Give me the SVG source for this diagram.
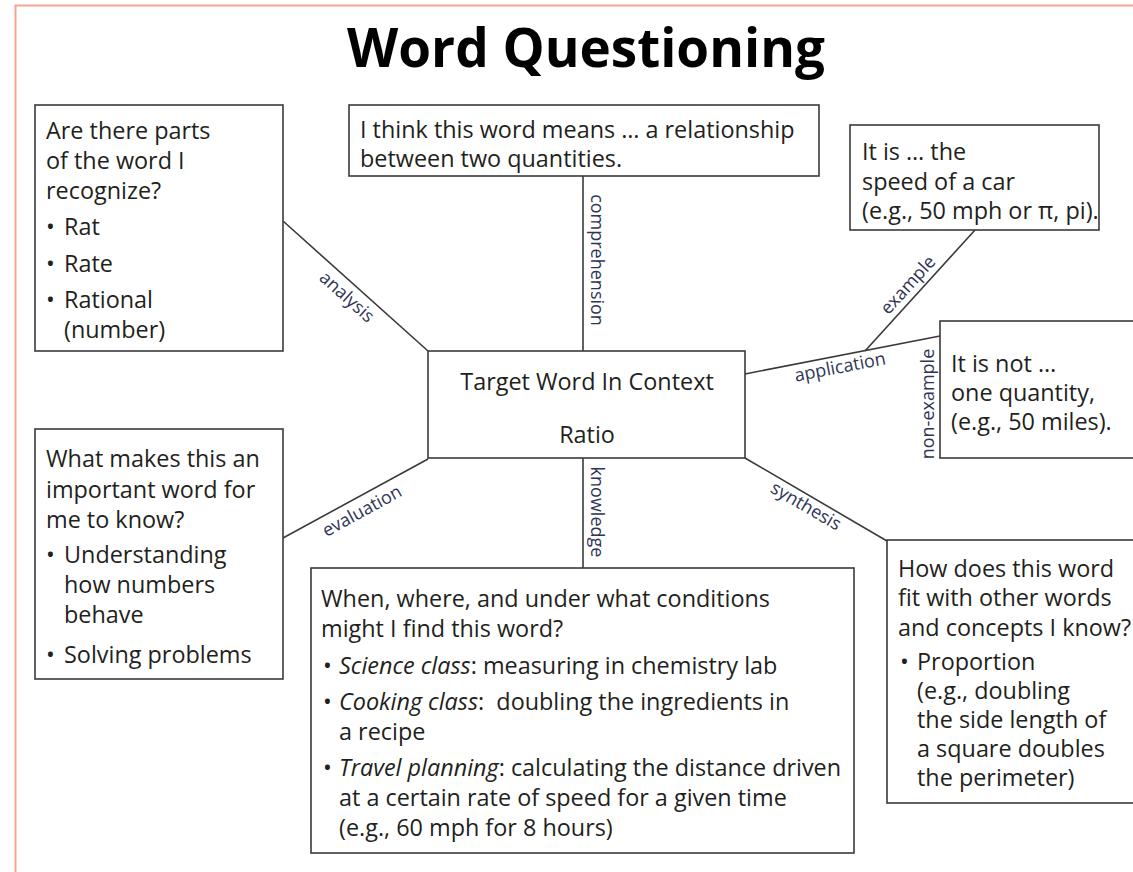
<svg xmlns="http://www.w3.org/2000/svg" width="1133" height="872" viewBox="0 0 1133 872">
<style>
.bg{fill:#fff}
.frame{fill:none;stroke:#f6a48f;stroke-width:2}
.box{fill:#fff;stroke:#3a3a3a;stroke-width:1.6}
.ln{stroke:#3a3a3a;stroke-width:1.6;fill:none}
.t{font-family:"Open Sans","Noto Sans",sans-serif;font-size:23.4px;fill:#231f20}
.c{text-anchor:middle}
.i{font-style:italic}
.title{font-family:"Open Sans","Noto Sans",sans-serif;font-size:53px;font-weight:bold;fill:#000;text-anchor:middle}
.lbl{font-family:"Open Sans","Noto Sans",sans-serif;font-size:18px;fill:#2e3556;text-anchor:middle}
</style>
<rect class="bg" x="0" y="0" width="1133" height="872"/>
<rect class="frame" x="15.5" y="5.5" width="1200" height="1000"/>
<text class="title" x="586" y="67">Word Questioning</text>

<g id="connectors">
<line class="ln" x1="283" y1="221" x2="428" y2="351"/>
<line class="ln" x1="583" y1="176" x2="583" y2="351"/>
<line class="ln" x1="975" y1="230" x2="865" y2="351"/>
<line class="ln" x1="745" y1="374" x2="940" y2="336"/>
<line class="ln" x1="283" y1="538" x2="428" y2="459"/>
<line class="ln" x1="583" y1="458" x2="583" y2="568"/>
<line class="ln" x1="745" y1="458" x2="887" y2="541"/>
<text class="lbl" transform="translate(347,297) rotate(41.9)" dy="6">analysis</text>
<text class="lbl" transform="translate(597,260) rotate(90)" dy="6">comprehension</text>
<text class="lbl" transform="translate(908,285) rotate(-47.7)" dy="6">example</text>
<text class="lbl" transform="translate(840,367) rotate(-11)" dy="6">application</text>
<text class="lbl" transform="translate(928,404) rotate(-90)" dy="6">non-example</text>
<text class="lbl" transform="translate(362,511) rotate(-28.6)" dy="6">evaluation</text>
<text class="lbl" transform="translate(597,512) rotate(90)" dy="6">knowledge</text>
<text class="lbl" transform="translate(806,506) rotate(30.3)" dy="6">synthesis</text>
</g>

<g id="node-parts">
<rect class="box" x="35" y="105" width="248" height="246"/>
<text class="t" x="46" y="139">Are there parts</text>
<text class="t" x="46" y="169">of the word I</text>
<text class="t" x="46" y="199">recognize?</text>
<text class="t" x="46" y="235">•</text><text class="t" x="64" y="235">Rat</text>
<text class="t" x="46" y="272">•</text><text class="t" x="64" y="272">Rate</text>
<text class="t" x="46" y="308">•</text><text class="t" x="64" y="308">Rational</text>
<text class="t" x="64" y="338">(number)</text>
</g>

<g id="node-means">
<rect class="box" x="349" y="105" width="470" height="71"/>
<text class="t" x="360" y="138">I think this word means … a relationship</text>
<text class="t" x="360" y="167">between two quantities.</text>
</g>

<g id="node-example">
<rect class="box" x="850" y="125" width="249" height="105"/>
<text class="t" x="862" y="160">It is … the</text>
<text class="t" x="862" y="190">speed of a car</text>
<text class="t" x="862" y="219">(e.g., 50 mph or π, pi).</text>
</g>

<g id="node-target">
<rect class="box" x="428" y="351" width="317" height="107"/>
<text class="t c" x="587" y="390">Target Word In Context</text>
<text class="t c" x="587" y="443">Ratio</text>
</g>

<g id="node-nonexample">
<rect class="box" x="940" y="321" width="220" height="137"/>
<text class="t" x="951" y="372">It is not …</text>
<text class="t" x="951" y="401">one quantity,</text>
<text class="t" x="951" y="430">(e.g., 50 miles).</text>
</g>

<g id="node-important">
<rect class="box" x="35" y="429" width="248" height="250"/>
<text class="t" x="46" y="467">What makes this an</text>
<text class="t" x="46" y="498">important word for</text>
<text class="t" x="46" y="528">me to know?</text>
<text class="t" x="46" y="563">•</text><text class="t" x="64" y="563">Understanding</text>
<text class="t" x="64" y="593">how numbers</text>
<text class="t" x="64" y="623">behave</text>
<text class="t" x="46" y="663">•</text><text class="t" x="64" y="663">Solving problems</text>
</g>

<g id="node-conditions">
<rect class="box" x="311" y="568" width="543" height="285"/>
<text class="t" x="321" y="607">When, where, and under what conditions</text>
<text class="t" x="321" y="637">might I find this word?</text>
<text class="t" x="323" y="674">•</text><text class="t" x="339" y="674"><tspan class="i">Science class</tspan>: measuring in chemistry lab</text>
<text class="t" x="323" y="710">•</text><text class="t" x="339" y="710" xml:space="preserve"><tspan class="i">Cooking class</tspan>:  doubling the ingredients in</text>
<text class="t" x="339" y="740">a recipe</text>
<text class="t" x="323" y="776">•</text><text class="t" x="339" y="776"><tspan class="i">Travel planning</tspan>: calculating the distance driven</text>
<text class="t" x="339" y="806">at a certain rate of speed for a given time</text>
<text class="t" x="339" y="836">(e.g., 60 mph for 8 hours)</text>
</g>

<g id="node-fit">
<rect class="box" x="887" y="540" width="280" height="263"/>
<text class="t" x="898" y="577">How does this word</text>
<text class="t" x="898" y="606">fit with other words</text>
<text class="t" x="898" y="636">and concepts I know?</text>
<text class="t" x="900" y="670">•</text><text class="t" x="917" y="670">Proportion</text>
<text class="t" x="917" y="699">(e.g., doubling</text>
<text class="t" x="917" y="728">the side length of</text>
<text class="t" x="917" y="757">a square doubles</text>
<text class="t" x="917" y="786">the perimeter)</text>
</g>
</svg>
